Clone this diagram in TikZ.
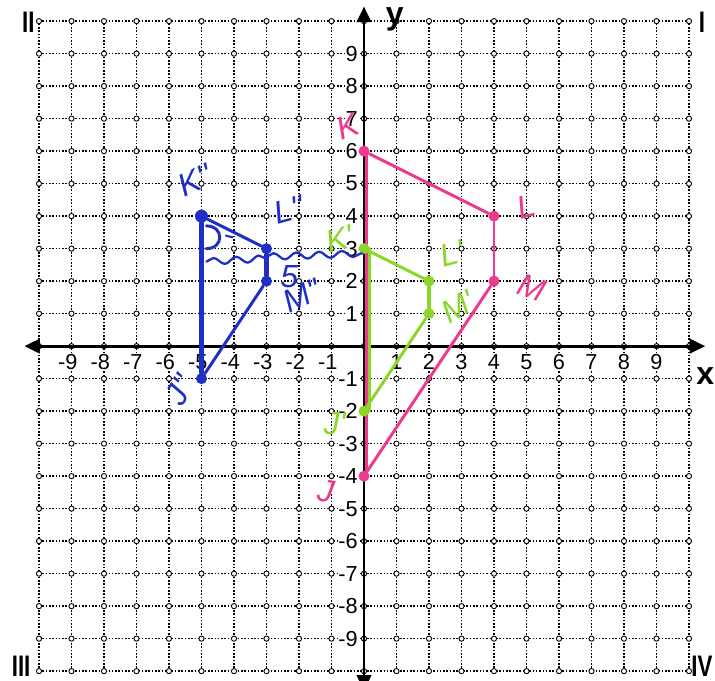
\documentclass[tikz,border=0pt]{standalone}
\usepackage{fontspec}
\setmainfont{Liberation Sans}
\usetikzlibrary{arrows.meta, decorations.pathmorphing}
\definecolor{pinkpen}{HTML}{EC3A8E}
\definecolor{greenpen}{HTML}{8CD62C}
\definecolor{bluepen}{HTML}{1F2FC6}

\begin{document}
\begin{tikzpicture}[
    x=0.5cm, y=0.5cm,
    gridline/.style={line width=0.75pt, dash pattern=on 0.7pt off 0.75pt},
    knot/.style={circle, draw, fill=white, line width=0.4pt, inner sep=0pt, minimum size=0.8mm},
    axis/.style={line width=1.3pt, {Triangle[length=2.4mm, width=2.2mm]}-{Triangle[length=2.4mm, width=2.2mm]}},
    tick/.style={fill=white, inner sep=0.4pt, font=\fontsize{9.5}{10}\selectfont},
    quad/.style={font=\fontsize{13}{14}\selectfont\bfseries, xscale=0.75, inner sep=0pt},
    axlbl/.style={font=\fontsize{14}{15}\selectfont\bfseries},
    dot/.style={circle, fill=#1, inner sep=0pt, minimum size=1.7mm},
    pen/.style={draw=#1, line width=1.3pt, line cap=round, line join=round},
    hand/.style={text=#1, font=\fontsize{14}{15}\selectfont\itshape, inner sep=0pt},
    wavy/.style={decorate, decoration={snake, amplitude=0.5mm, segment length=3.5mm}},
  ]
  \useasboundingbox (-11.2,-10.28) rectangle (10.8,10.65);

  % dotted grid
  \foreach \i in {-10,...,10} {
    \draw[gridline] (\i,-10) -- (\i,10);
    \draw[gridline] (-10,\i) -- (10,\i);
  }
  \foreach \i in {-10,...,10}
    \foreach \j in {-10,...,10}
      \node[knot] at (\i,\j) {};

  % tick numbers
  \foreach \i in {1,...,9} {
    \node[tick] at (\i,-0.5) {\i};
    \node[tick] at (-\i,-0.5) {\llap{-}\i};
    \node[tick, anchor=east] at (-0.15,\i) {\i};
    \node[tick, anchor=east] at (-0.15,-\i) {-\i};
  }

  % axes
  \draw[axis] (-10.45,0) -- (10.5,0);
  \draw[axis] (0,-10.6) -- (0,10.45);
  \node[axlbl] (ylbl) at (0.95,10.05) {y};
  \node[axlbl] (xlbl) at (10.5,-0.92) {x};

  % quadrants
  \node[quad] (q2) at (-10.33,9.95) {II};
  \node[quad] (q1) at (10.4,9.95) {I};
  \node[quad] (q3) at (-10.55,-9.85) {III};
  \node[quad] (q4) at (10.4,-9.85) {IV};

  % JKLM
  \node[dot=pinkpen] (K) at (0,6) {};
  \node[dot=pinkpen] (L) at (4,4) {};
  \node[dot=pinkpen] (M) at (4,2) {};
  \node[dot=pinkpen] (J) at (0,-4) {};
  \draw[pen=pinkpen] (K) -- (L);
  \draw[pen=pinkpen] (L) -- (M);
  \draw[pen=pinkpen] (M) -- (J);
  \draw[pen=pinkpen, line width=1pt] ([xshift=1.1pt]J.center) -- ([xshift=1.1pt]K.center);

  % J'K'L'M'
  \node[dot=greenpen] (K1) at (0,3) {};
  \node[dot=greenpen] (L1) at (2,2) {};
  \node[dot=greenpen] (M1) at (2,1) {};
  \node[dot=greenpen] (J1) at (0,-2) {};
  \draw[pen=greenpen] (K1) -- (L1);
  \draw[pen=greenpen, line width=2pt] (L1) -- (M1);
  \draw[pen=greenpen] (M1) -- (J1);
  \draw[pen=greenpen] ([xshift=2.6pt]K1.center) -- ([xshift=2.6pt]J1.center);

  % J''K''L''M''
  \node[dot=bluepen, minimum size=2mm] (K2) at (-5,4) {};
  \node[dot=bluepen] (L2) at (-3,3) {};
  \node[dot=bluepen] (M2) at (-3,2) {};
  \node[dot=bluepen] (J2) at (-5,-1) {};
  \draw[pen=bluepen] (K2) -- (L2);
  \draw[pen=bluepen, line width=2pt] (L2) -- (M2);
  \draw[pen=bluepen] (M2) -- (J2);
  \draw[pen=bluepen, line width=1.8pt] (J2) -- (K2);

  % blue scribbles
  \draw[pen=bluepen, line width=1pt, wavy] (-4.85,2.6) -- (-3,2.7);
  \draw[pen=bluepen, line width=1pt, wavy] (-3,2.75) -- (-0.05,2.85);
  \draw[pen=bluepen] (-4.85,3.7) .. controls (-4.3,3.7) and (-4.3,3.0) .. (-4.85,3.0);
  \draw[pen=bluepen, line width=0.9pt] (-4.25,3.4) -- (-4.05,3.35);

  % hand labels
  \node[hand=pinkpen, rotate=20] (Klbl) at (-0.5,6.75) {K};
  \node[hand=pinkpen, rotate=15] (Llbl) at (5.0,4.3) {L};
  \node[hand=pinkpen, rotate=-20] (Mlbl) at (5.15,1.8) {M};
  \node[hand=pinkpen, rotate=-10] (Jlbl) at (-1.15,-4.45) {J};
  \node[hand=greenpen, rotate=15] (K1lbl) at (-0.75,3.3) {K\textquotesingle};
  \node[hand=greenpen, rotate=15] (L1lbl) at (2.7,2.85) {L\textquotesingle};
  \node[hand=greenpen, rotate=30] (M1lbl) at (2.9,1.2) {M\textquotesingle};
  \node[hand=greenpen] (J1lbl) at (-0.9,-2.4) {J\textquotesingle};
  \node[hand=bluepen, rotate=25] (K2lbl) at (-5.2,5.1) {K\textquotesingle\textquotesingle};
  \node[hand=bluepen, rotate=15] (L2lbl) at (-2.3,4.2) {L\textquotesingle\textquotesingle};
  \node[hand=bluepen, rotate=25] (M2lbl) at (-1.9,1.55) {M\textquotesingle\textquotesingle};
  \node[hand=bluepen] (five) at (-2.3,2.15) {5};
  \node[hand=bluepen, rotate=60] (J2lbl) at (-5.65,-1.35) {J\textquotesingle\textquotesingle};
\end{tikzpicture}
\end{document}
